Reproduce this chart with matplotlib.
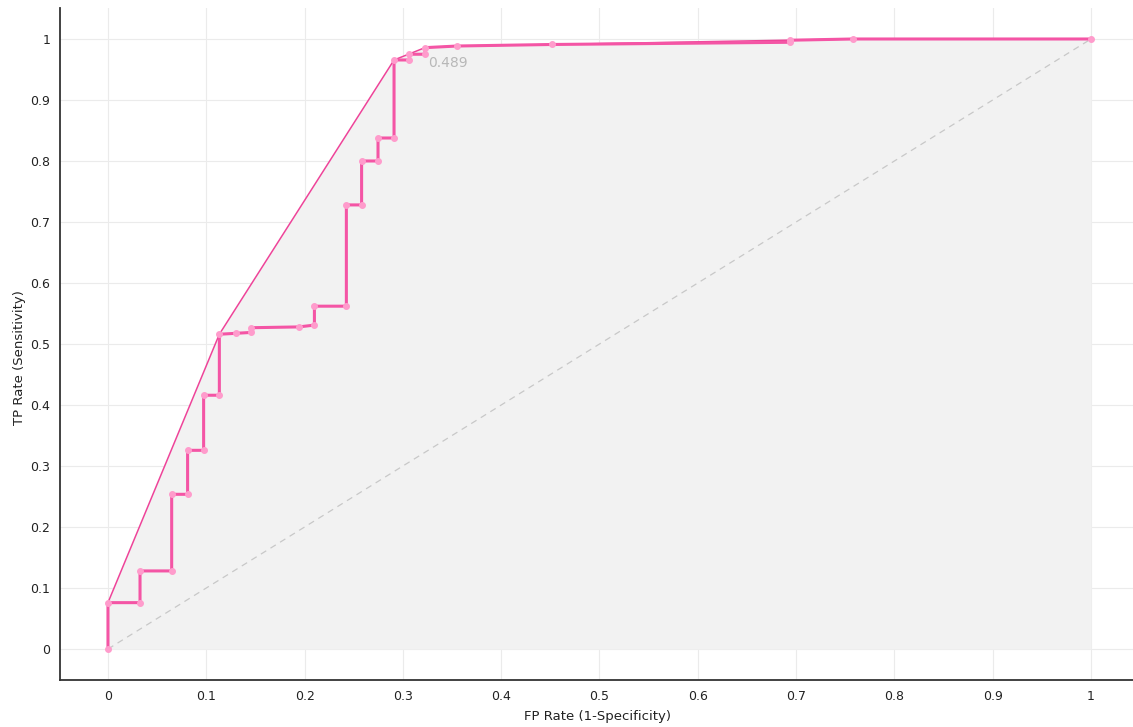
import numpy as np
import matplotlib
matplotlib.use("Agg")
import matplotlib.pyplot as plt

# ROC curve points (FP rate, TP rate)
fpr = [0.0, 0.0, 0.0326, 0.0326, 0.0648, 0.0648, 0.081, 0.081, 0.0973, 0.0973,
       0.1133, 0.1133, 0.130, 0.1458, 0.1458, 0.194, 0.210, 0.210, 0.2425, 0.2425,
       0.258, 0.258, 0.2747, 0.2747, 0.291, 0.291, 0.3066, 0.3066, 0.3225, 0.3225,
       0.3554, 0.452, 0.694, 0.694, 0.758, 1.0]
tpr = [0.0, 0.076, 0.076, 0.128, 0.128, 0.2536, 0.2536, 0.3257, 0.3257, 0.416,
       0.416, 0.516, 0.5175, 0.519, 0.5267, 0.528, 0.531, 0.562, 0.562, 0.728,
       0.728, 0.800, 0.800, 0.8377, 0.8377, 0.9656, 0.9656, 0.975, 0.975, 0.9858,
       0.9885, 0.991, 0.9946, 0.998, 1.0, 1.0]

# convex hull of the ROC curve
hull_fpr = [0.0, 0.0, 0.1133, 0.291, 0.3225, 0.3554, 0.452, 0.758, 1.0]
hull_tpr = [0.0, 0.076, 0.516, 0.9656, 0.9858, 0.9885, 0.991, 1.0, 1.0]

threshold_label = "0.489"
threshold_pos = (0.326, 0.961)

ticks = np.round(np.arange(0, 1.01, 0.1), 1)
tick_labels = ["0", "0.1", "0.2", "0.3", "0.4", "0.5", "0.6", "0.7", "0.8", "0.9", "1"]

fig = plt.figure(figsize=(11.33, 7.27), dpi=100)
ax = fig.add_axes([60 / 1133, 47 / 727, 1 - 60 / 1133, 672 / 727])

ax.fill_between(hull_fpr, hull_tpr, 0, color="#f2f2f2", zorder=1, linewidth=0)
ax.plot([0, 1], [0, 1], linestyle=(0, (5, 4)), color="#c8c8c8", linewidth=0.9, zorder=2)
ax.plot(hull_fpr, hull_tpr, color="#ee4499", linewidth=1.1, zorder=3)
ax.plot(fpr, tpr, color="#f455a5", linewidth=2.2, zorder=4,
        marker="o", markersize=4, markerfacecolor="#ff9ccc", markeredgecolor="#ff9ccc")
ax.text(threshold_pos[0], threshold_pos[1], threshold_label, color="#b8b8b8",
        fontsize=10, ha="left", va="center", zorder=5)

ax.set_xlim(-0.0488, 1.0427)
ax.set_ylim(-0.0508, 1.0508)
ax.set_xticks(ticks)
ax.set_xticklabels(tick_labels)
ax.set_yticks(ticks)
ax.set_yticklabels(tick_labels)
ax.tick_params(length=0, labelsize=9, colors="#222222", pad=7)
ax.grid(True, color="#ebebeb", linewidth=0.8)
ax.set_axisbelow(True)

for s in ["top", "right"]:
    ax.spines[s].set_visible(False)
for s in ["left", "bottom"]:
    ax.spines[s].set_color("#333333")
    ax.spines[s].set_linewidth(1.3)

ax.set_xlabel("FP Rate (1-Specificity)", fontsize=9.5, color="#222222")
ax.set_ylabel("TP Rate (Sensitivity)", fontsize=9.5, color="#222222")
ax.xaxis.set_label_coords((597 - 60) / 1073, -30 / 672)
ax.yaxis.set_label_coords(-34 / 1073, (680 - 358) / 672)

fig.savefig("out.png", dpi=100)
